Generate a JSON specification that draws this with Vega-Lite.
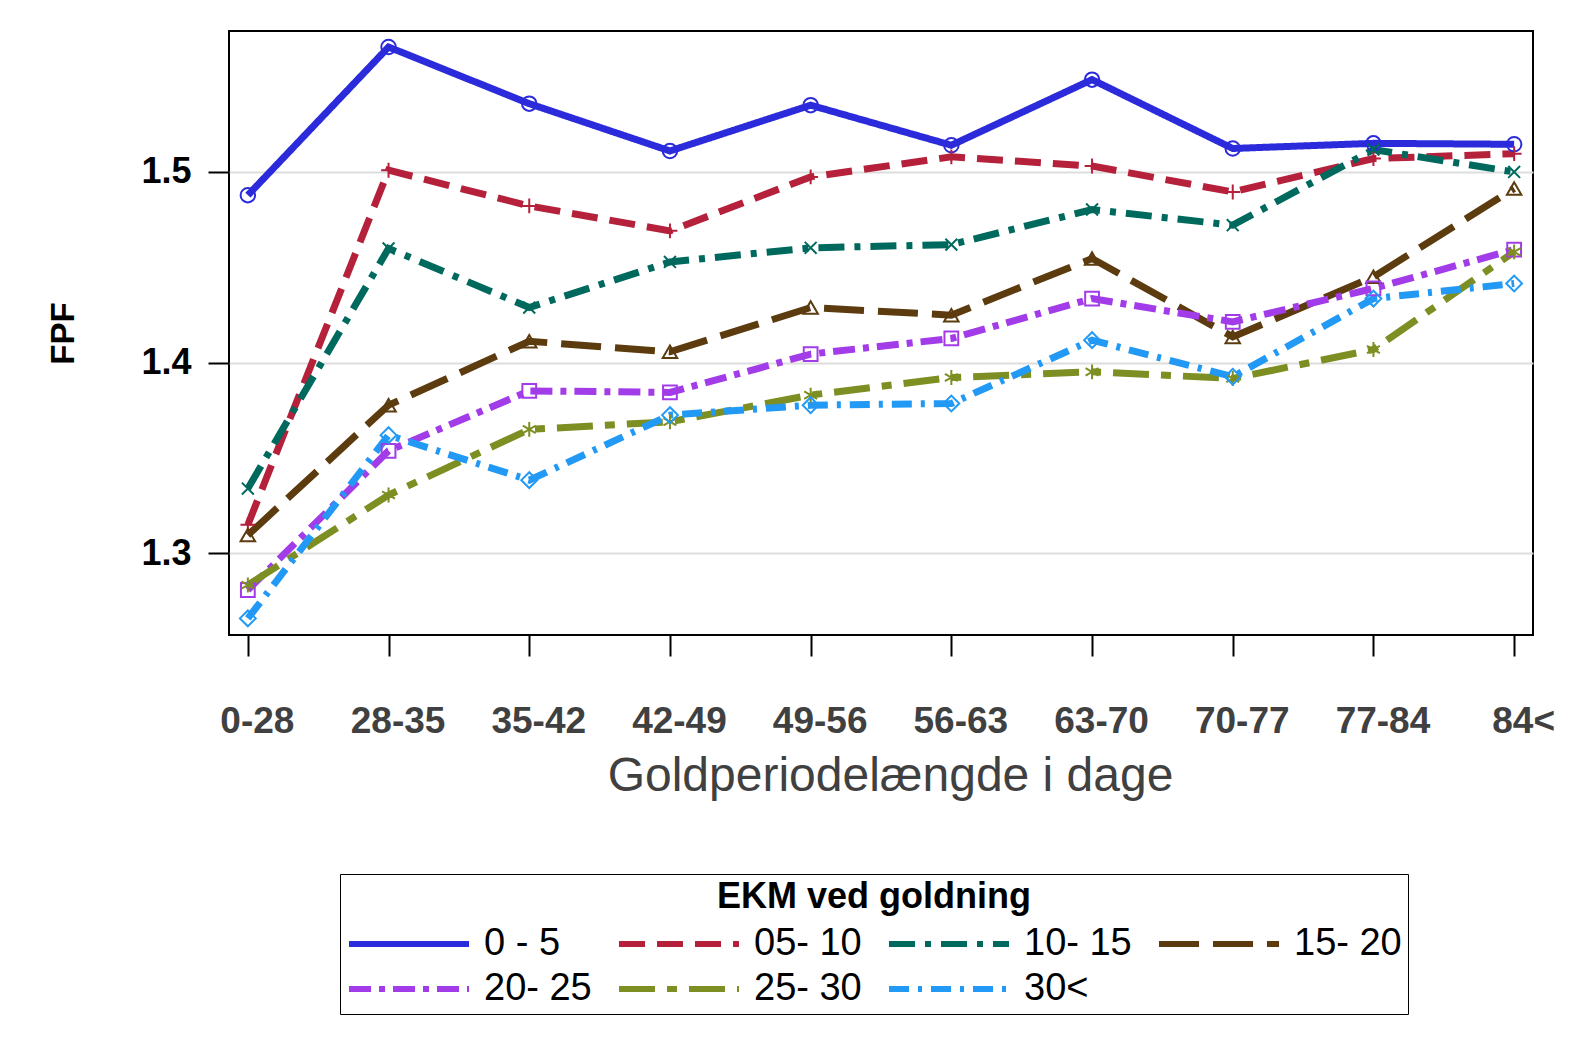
{
  "$schema": "https://vega.github.io/schema/vega-lite/v6.json",
  "width": 1304,
  "height": 604,
  "autosize": {"type": "none"},
  "padding": {"left": 229, "top": 31, "right": 43, "bottom": 402},
  "background": "white",
  "config": {
    "view": {"stroke": "black", "strokeWidth": 2},
    "font": "Liberation Sans"
  },
  "data": {
    "values": [
      {"period": "0-28", "group": "0 - 5", "fpf": 1.4878},
      {"period": "28-35", "group": "0 - 5", "fpf": 1.5655},
      {"period": "35-42", "group": "0 - 5", "fpf": 1.5358},
      {"period": "42-49", "group": "0 - 5", "fpf": 1.511},
      {"period": "49-56", "group": "0 - 5", "fpf": 1.535},
      {"period": "56-63", "group": "0 - 5", "fpf": 1.514},
      {"period": "63-70", "group": "0 - 5", "fpf": 1.5484},
      {"period": "70-77", "group": "0 - 5", "fpf": 1.5123},
      {"period": "77-84", "group": "0 - 5", "fpf": 1.515},
      {"period": "84<", "group": "0 - 5", "fpf": 1.5145},
      {"period": "0-28", "group": "05- 10", "fpf": 1.315},
      {"period": "28-35", "group": "05- 10", "fpf": 1.5009},
      {"period": "35-42", "group": "05- 10", "fpf": 1.4822},
      {"period": "42-49", "group": "05- 10", "fpf": 1.4691},
      {"period": "49-56", "group": "05- 10", "fpf": 1.4974},
      {"period": "56-63", "group": "05- 10", "fpf": 1.5079},
      {"period": "63-70", "group": "05- 10", "fpf": 1.5031},
      {"period": "70-77", "group": "05- 10", "fpf": 1.4895},
      {"period": "77-84", "group": "05- 10", "fpf": 1.507},
      {"period": "84<", "group": "05- 10", "fpf": 1.5096},
      {"period": "0-28", "group": "10- 15", "fpf": 1.334},
      {"period": "28-35", "group": "10- 15", "fpf": 1.4599},
      {"period": "35-42", "group": "10- 15", "fpf": 1.4289},
      {"period": "42-49", "group": "10- 15", "fpf": 1.4528},
      {"period": "49-56", "group": "10- 15", "fpf": 1.4602},
      {"period": "56-63", "group": "10- 15", "fpf": 1.4619},
      {"period": "63-70", "group": "10- 15", "fpf": 1.4803},
      {"period": "70-77", "group": "10- 15", "fpf": 1.4721},
      {"period": "77-84", "group": "10- 15", "fpf": 1.5117},
      {"period": "84<", "group": "10- 15", "fpf": 1.5},
      {"period": "0-28", "group": "15- 20", "fpf": 1.3096},
      {"period": "28-35", "group": "15- 20", "fpf": 1.3777},
      {"period": "35-42", "group": "15- 20", "fpf": 1.4112},
      {"period": "42-49", "group": "15- 20", "fpf": 1.4057},
      {"period": "49-56", "group": "15- 20", "fpf": 1.4289},
      {"period": "56-63", "group": "15- 20", "fpf": 1.4249},
      {"period": "63-70", "group": "15- 20", "fpf": 1.4546},
      {"period": "70-77", "group": "15- 20", "fpf": 1.4135},
      {"period": "77-84", "group": "15- 20", "fpf": 1.445},
      {"period": "84<", "group": "15- 20", "fpf": 1.4913},
      {"period": "0-28", "group": "20- 25", "fpf": 1.2808},
      {"period": "28-35", "group": "20- 25", "fpf": 1.3538},
      {"period": "35-42", "group": "20- 25", "fpf": 1.3852},
      {"period": "42-49", "group": "20- 25", "fpf": 1.3844},
      {"period": "49-56", "group": "20- 25", "fpf": 1.4045},
      {"period": "56-63", "group": "20- 25", "fpf": 1.4127},
      {"period": "63-70", "group": "20- 25", "fpf": 1.4336},
      {"period": "70-77", "group": "20- 25", "fpf": 1.4214},
      {"period": "77-84", "group": "20- 25", "fpf": 1.4389},
      {"period": "84<", "group": "20- 25", "fpf": 1.4593},
      {"period": "0-28", "group": "25- 30", "fpf": 1.2834},
      {"period": "28-35", "group": "25- 30", "fpf": 1.3306},
      {"period": "35-42", "group": "25- 30", "fpf": 1.365},
      {"period": "42-49", "group": "25- 30", "fpf": 1.369},
      {"period": "49-56", "group": "25- 30", "fpf": 1.383},
      {"period": "56-63", "group": "25- 30", "fpf": 1.3922},
      {"period": "63-70", "group": "25- 30", "fpf": 1.3952},
      {"period": "70-77", "group": "25- 30", "fpf": 1.3917},
      {"period": "77-84", "group": "25- 30", "fpf": 1.4069},
      {"period": "84<", "group": "25- 30", "fpf": 1.4581},
      {"period": "0-28", "group": "30<", "fpf": 1.2659},
      {"period": "28-35", "group": "30<", "fpf": 1.362},
      {"period": "35-42", "group": "30<", "fpf": 1.3384},
      {"period": "42-49", "group": "30<", "fpf": 1.3725},
      {"period": "49-56", "group": "30<", "fpf": 1.3777},
      {"period": "56-63", "group": "30<", "fpf": 1.3786},
      {"period": "63-70", "group": "30<", "fpf": 1.4118},
      {"period": "70-77", "group": "30<", "fpf": 1.3926},
      {"period": "77-84", "group": "30<", "fpf": 1.4336},
      {"period": "84<", "group": "30<", "fpf": 1.4415}
    ]
  },
  "encoding": {
    "x": {
      "field": "period",
      "type": "ordinal",
      "sort": ["0-28", "28-35", "35-42", "42-49", "49-56", "56-63", "63-70", "70-77", "77-84", "84<"],
      "scale": {"type": "point", "padding": 0.134},
      "axis": {
        "title": "Goldperiodelængde i dage",
        "labelAngle": 0,
        "labelFont": "Liberation Sans",
        "labelFontSize": 37,
        "labelFontWeight": "bold",
        "labelColor": "#404040",
        "labelPadding": 47,
        "labelOffset": 9,
        "tickSize": 21,
        "tickWidth": 2,
        "tickColor": "black",
        "domain": false,
        "grid": false,
        "titleFont": "Liberation Sans",
        "titleFontSize": 48,
        "titleFontWeight": "normal",
        "titleColor": "#404040",
        "titlePadding": 13,
        "titleX": 661
      }
    },
    "y": {
      "field": "fpf",
      "type": "quantitative",
      "scale": {"domain": [1.2572, 1.5739], "nice": false, "zero": false},
      "axis": {
        "title": "FPF",
        "values": [1.3, 1.4, 1.5],
        "format": ".1f",
        "labelFont": "Liberation Sans",
        "labelFontSize": 36,
        "labelFontWeight": "bold",
        "labelColor": "black",
        "labelPadding": 17,
        "tickSize": 21,
        "tickWidth": 2,
        "tickColor": "black",
        "domain": false,
        "grid": true,
        "gridColor": "#DDDDDD",
        "gridWidth": 2,
        "titleFont": "Liberation Sans",
        "titleFontSize": 33,
        "titleFontWeight": "bold",
        "titleColor": "black",
        "titlePadding": 60
      }
    },
    "color": {
      "field": "group",
      "type": "nominal",
      "scale": {
        "domain": ["0 - 5", "05- 10", "10- 15", "15- 20", "20- 25", "25- 30", "30<"],
        "range": ["#2B2BDB", "#B5203A", "#00695E", "#5C3B0E", "#A23CE8", "#7D8F22", "#2299F5"]
      },
      "legend": null
    }
  },
  "layer": [
    {
      "mark": {"type": "line", "strokeWidth": 7, "strokeCap": "butt"},
      "encoding": {
        "color": {
          "field": "group",
          "type": "nominal",
          "legend": {
            "title": "EKM ved goldning",
            "orient": "none",
            "legendX": 111,
            "legendY": 843,
            "direction": "horizontal",
            "columns": 4,
            "titleAnchor": "middle",
            "titleFont": "Liberation Sans",
            "titleFontSize": 36,
            "titleFontWeight": "bold",
            "titleColor": "black",
            "titlePadding": 10,
            "titleLimit": 1000,
            "labelFont": "Liberation Sans",
            "labelFontSize": 38,
            "labelColor": "black",
            "labelLimit": 300,
            "labelOffset": 12,
            "symbolType": "stroke",
            "symbolSize": 14400,
            "symbolStrokeWidth": 6,
            "symbolOpacity": 1,
            "clipHeight": 36,
            "rowPadding": 7,
            "columnPadding": 24,
            "padding": 6,
            "strokeColor": "black"
          }
        },
        "strokeDash": {
          "field": "group",
          "type": "nominal",
          "scale": {
            "domain": ["0 - 5", "05- 10", "10- 15", "15- 20", "20- 25", "25- 30", "30<"],
            "range": [[1, 0], [26, 12], [26, 10, 6, 10], [40, 14], [22, 8, 6, 8], [36, 12, 10, 12], [20, 9, 4, 9]]
          },
          "legend": {
            "title": "EKM ved goldning",
            "orient": "none",
            "legendX": 111,
            "legendY": 843,
            "direction": "horizontal",
            "columns": 4,
            "symbolType": "stroke",
            "symbolSize": 14400,
            "symbolStrokeWidth": 6
          }
        }
      }
    },
    {
      "transform": [{"filter": {"field": "group", "equal": "0 - 5"}}],
      "mark": {"type": "point", "shape": "circle", "filled": false, "size": 210, "strokeWidth": 2, "opacity": 1}
    },
    {
      "transform": [{"filter": {"field": "group", "equal": "05- 10"}}],
      "mark": {"type": "point", "shape": "M-1,0L1,0M0,-1L0,1", "filled": false, "size": 220, "strokeWidth": 2, "opacity": 1}
    },
    {
      "transform": [{"filter": {"field": "group", "equal": "10- 15"}}],
      "mark": {"type": "point", "shape": "M-0.8,-0.8L0.8,0.8M-0.8,0.8L0.8,-0.8", "filled": false, "size": 220, "strokeWidth": 2, "opacity": 1}
    },
    {
      "transform": [{"filter": {"field": "group", "equal": "15- 20"}}],
      "mark": {"type": "point", "shape": "triangle-up", "filled": false, "size": 210, "strokeWidth": 2, "opacity": 1}
    },
    {
      "transform": [{"filter": {"field": "group", "equal": "20- 25"}}],
      "mark": {"type": "point", "shape": "square", "filled": false, "size": 190, "strokeWidth": 2, "opacity": 1}
    },
    {
      "transform": [{"filter": {"field": "group", "equal": "25- 30"}}],
      "mark": {"type": "point", "shape": "M0,-1L0,1M-0.87,-0.5L0.87,0.5M-0.87,0.5L0.87,-0.5", "filled": false, "size": 220, "strokeWidth": 2, "opacity": 1}
    },
    {
      "transform": [{"filter": {"field": "group", "equal": "30<"}}],
      "mark": {"type": "point", "shape": "diamond", "filled": false, "size": 250, "strokeWidth": 2, "opacity": 1}
    }
  ]
}
